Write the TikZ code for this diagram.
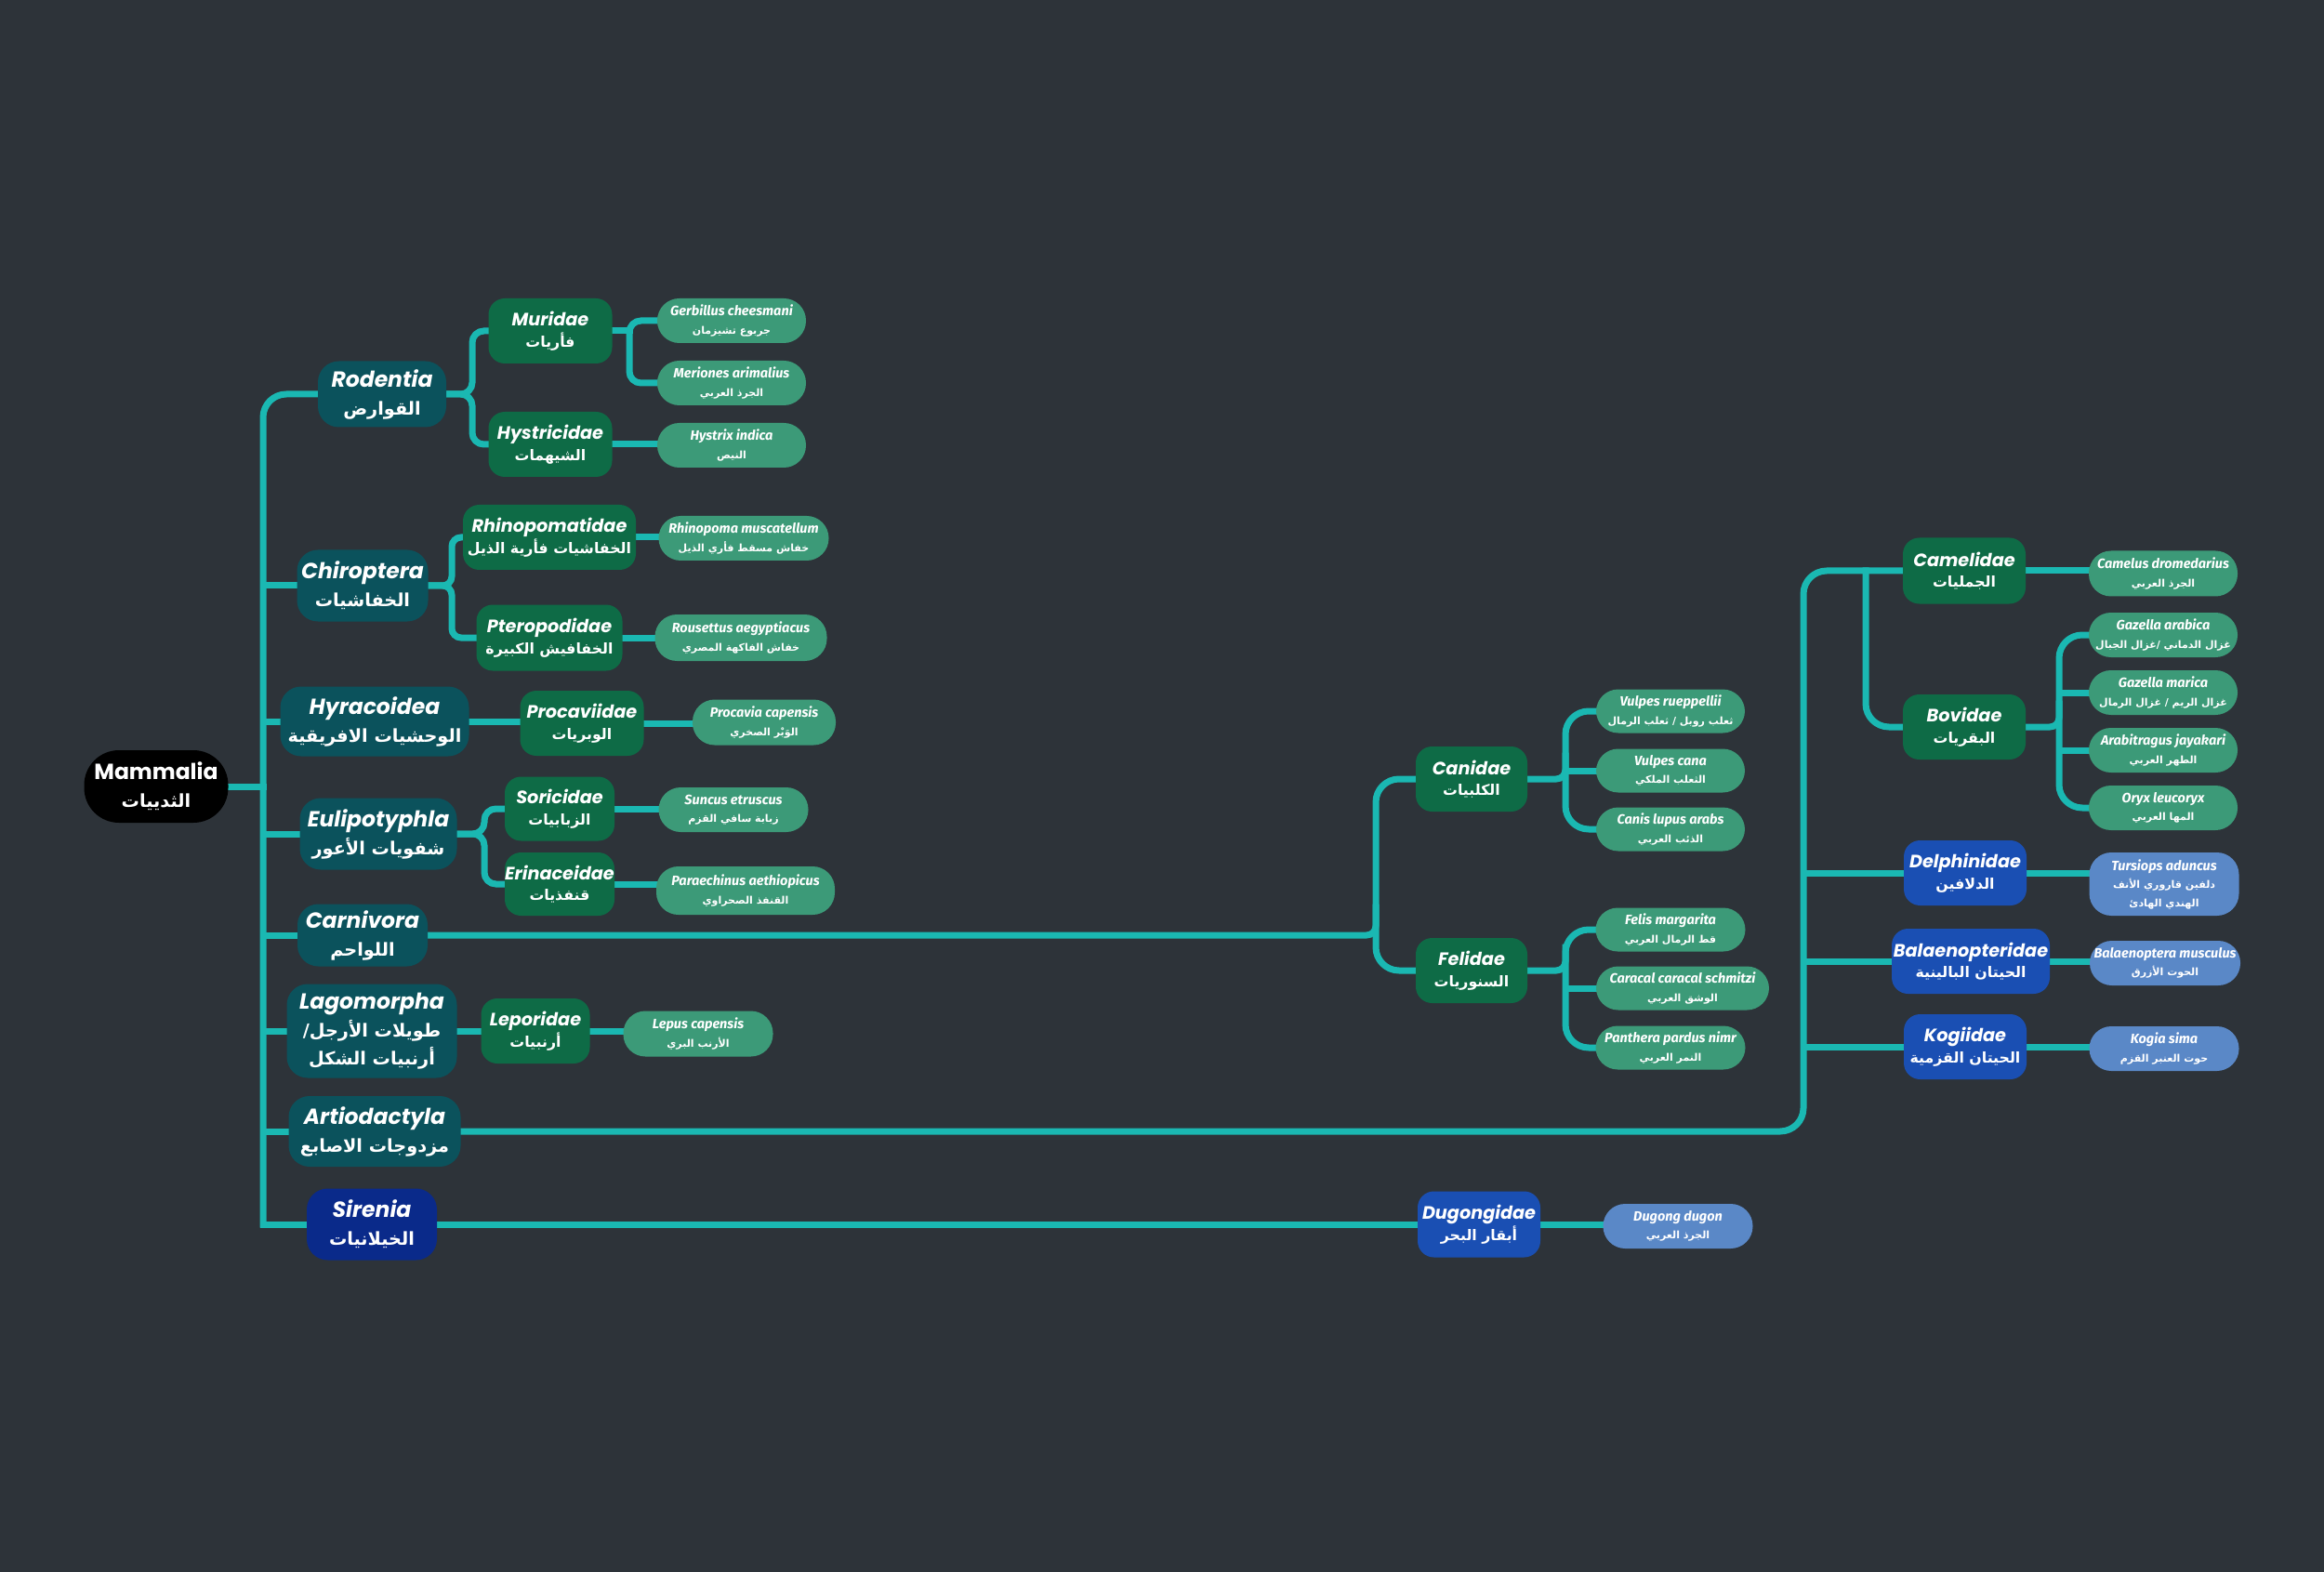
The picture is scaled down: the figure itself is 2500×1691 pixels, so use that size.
\documentclass[tikz,border=0pt]{standalone}
\usepackage{fontspec}
\usetikzlibrary{calc}
\TeXXeTstate=1
\newfontfamily\latf{Poppins}
\newfontfamily\spf{Fira Sans}
\newfontfamily\arf[Script=Arabic,Scale=0.82]{DejaVu Sans}
\newfontfamily\arfs[Script=Arabic,Scale=0.76]{DejaVu Sans}
\definecolor{bgc}{HTML}{2D3339}
\definecolor{linec}{HTML}{1AB8B2}
\definecolor{rootc}{HTML}{000000}
\definecolor{ordc}{HTML}{0B525C}
\definecolor{sirc}{HTML}{0A2A8A}
\definecolor{famc}{HTML}{0E6B46}
\definecolor{spec}{HTML}{3C9A78}
\definecolor{bfamc}{HTML}{1A4FB3}
\definecolor{bspec}{HTML}{5A88C7}
\newcommand\La[1]{{\latf\bfseries\itshape #1}}
\newcommand\Ls[1]{{\spf\bfseries\itshape #1}}
\newcommand\Ar[1]{{\arf\bfseries\beginR #1\endR}}
\newcommand\As[1]{{\arfs\bfseries\beginR #1\endR}}
\pgfdeclarelayer{bgfill}
\pgfdeclarelayer{lines}
\pgfsetlayers{bgfill,lines,main}
\begin{document}
\begin{tikzpicture}[x=0.4pt,y=-0.4pt,
  every node/.style={inner sep=0pt, outer sep=0pt, align=center, text=white},
  sz/.style 2 args={minimum width=#1*0.4pt, minimum height=#2*0.4pt},
  rootbox/.style={fill=rootc, rounded corners=15pt, font=\fontsize{9.4}{12}\selectfont},
  ordbox/.style={fill=ordc, rounded corners=9pt, font=\fontsize{9.4}{12}\selectfont},
  sirbox/.style={ordbox, fill=sirc},
  fambox/.style={fill=famc, rounded corners=7pt, font=\fontsize{7.7}{9}\selectfont},
  bfambox/.style={fambox, fill=bfamc},
  spebox/.style={fill=spec, rounded corners=9.5pt, font=\fontsize{5.8}{7.8}\selectfont},
  bspebox/.style={spebox, fill=bspec},
  conn/.style={draw=linec, line width=2.8pt, line cap=rect}]
\useasboundingbox (0,0) rectangle (2500,1691);
\begin{pgfonlayer}{bgfill}
\fill[bgc] (0,0) rectangle (2500,1691);
\end{pgfonlayer}

% root
\node[rootbox, sz={155}{78}] (mam) at (168,846) {{\latf\bfseries Mammalia}\\\Ar{الثدييات}};

% orders
\node[ordbox, sz={138}{71}] (rod) at (411,424) {\La{Rodentia}\\\Ar{القوارض}};
\node[ordbox, sz={141}{77}] (chi) at (390,630) {\La{Chiroptera}\\\Ar{الخفاشيات}};
\node[ordbox, sz={203}{75}] (hyr) at (403,776) {\La{Hyracoidea}\\\Ar{الوحشيات الافريقية}};
\node[ordbox, sz={169}{77}] (eul) at (407,897) {\La{Eulipotyphla}\\\Ar{شفويات الأعور}};
\node[ordbox, sz={140}{67}] (car) at (390,1006) {\La{Carnivora}\\\Ar{اللواحم}};
\node[ordbox, sz={183}{101}] (lag) at (400,1109) {\La{Lagomorpha}\\\Ar{طويلات الأرجل/}\\\Ar{أرنبيات الشكل}};
\node[ordbox, sz={185}{76}] (art) at (403,1217) {\La{Artiodactyla}\\\Ar{مزدوجات الاصابع}};
\node[sirbox, sz={140}{77}] (sir) at (400,1317) {\La{Sirenia}\\\Ar{الخيلانيات}};

% families
\node[fambox, sz={133}{70}] (mur) at (592,356) {\La{Muridae}\\\Ar{فأريات}};
\node[fambox, sz={133}{70}] (hys) at (592,478) {\La{Hystricidae}\\\Ar{الشيهمات}};
\node[fambox, sz={186}{70}] (rhi) at (591,578) {\La{Rhinopomatidae}\\\Ar{الخفاشيات فأرية الذيل}};
\node[fambox, sz={157}{71}] (pte) at (591,686) {\La{Pteropodidae}\\\Ar{الخفافيش الكبيرة}};
\node[fambox, sz={133}{70}] (pro) at (626,778) {\La{Procaviidae}\\\Ar{الوبريات}};
\node[fambox, sz={118}{69}] (sor) at (602,870) {\La{Soricidae}\\\Ar{الزبابيات}};
\node[fambox, sz={118}{68}] (eri) at (602,951) {\La{Erinaceidae}\\\Ar{قنفذيات}};
\node[fambox, sz={120}{70}] (can) at (1583,838) {\La{Canidae}\\\Ar{الكلبيات}};
\node[fambox, sz={120}{70}] (fel) at (1583,1044) {\La{Felidae}\\\Ar{السنوريات}};
\node[fambox, sz={117}{70}] (lep) at (576,1109) {\La{Leporidae}\\\Ar{أرنبيات}};
\node[fambox, sz={132}{71}] (cam) at (2113,614) {\La{Camelidae}\\\Ar{الجمليات}};
\node[fambox, sz={132}{70}] (bov) at (2113,782) {\La{Bovidae}\\\Ar{البقريات}};
\node[bfambox, sz={132}{70}] (del) at (2114,939) {\La{Delphinidae}\\\Ar{الدلافين}};
\node[bfambox, sz={170}{70}] (bal) at (2120,1034) {\La{Balaenopteridae}\\\Ar{الحيتان البالينية}};
\node[bfambox, sz={132}{70}] (kog) at (2114,1126) {\La{Kogiidae}\\\Ar{الحيتان القزمية}};
\node[bfambox, sz={132}{71}] (dug) at (1591,1317) {\La{Dugongidae}\\\Ar{أبقار البحر}};

% species
\node[spebox, sz={160}{48}] (ger) at (787,345) {\Ls{Gerbillus cheesmani}\\\As{جربوع تشيزمان}};
\node[spebox, sz={160}{48}] (mer) at (787,412) {\Ls{Meriones arimalius}\\\As{الجرذ العربي}};
\node[spebox, sz={160}{48}] (hyx) at (787,479) {\Ls{Hystrix indica}\\\As{النيص}};
\node[spebox, sz={183}{48}] (rhm) at (800,579) {\Ls{Rhinopoma muscatellum}\\\As{خفاش مسقط فأري الذيل}};
\node[spebox, sz={185}{50}] (rou) at (797,686) {\Ls{Rousettus aegyptiacus}\\\As{خفاش الفاكهة المصري}};
\node[spebox, sz={154}{49}] (prc) at (822,777) {\Ls{Procavia capensis}\\\As{الوَبْر الصخري}};
\node[spebox, sz={161}{48}] (sun) at (789,871) {\Ls{Suncus etruscus}\\\As{زبابة سافي القزم}};
\node[spebox, sz={192}{52}] (par) at (802,958) {\Ls{Paraechinus aethiopicus}\\\As{القنفذ الصحراوي}};
\node[spebox, sz={160}{47}] (vru) at (1797,765) {\Ls{Vulpes rueppellii}\\\As{ثعلب روبل / ثعلب الرمال}};
\node[spebox, sz={160}{47}] (vca) at (1797,829) {\Ls{Vulpes cana}\\\As{الثعلب الملكي}};
\node[spebox, sz={160}{47}] (cla) at (1797,892) {\Ls{Canis lupus arabs}\\\As{الذئب العربي}};
\node[spebox, sz={161}{47}] (fma) at (1797,1000) {\Ls{Felis margarita}\\\As{قط الرمال العربي}};
\node[spebox, sz={186}{47}] (ccs) at (1810,1063) {\Ls{Caracal caracal schmitzi}\\\As{الوشق العربي}};
\node[spebox, sz={161}{47}] (ppn) at (1797,1127) {\Ls{Panthera pardus nimr}\\\As{النمر العربي}};
\node[spebox, sz={161}{49}] (lpc) at (751,1112) {\Ls{Lepus capensis}\\\As{الأرنب البري}};
\node[spebox, sz={160}{49}] (cdr) at (2327,617) {\Ls{Camelus dromedarius}\\\As{الجرذ العربي}};
\node[spebox, sz={160}{48}] (gar) at (2327,683) {\Ls{Gazella arabica}\\\As{غزال الدماني /غزال الجبال}};
\node[spebox, sz={160}{48}] (gma) at (2327,745) {\Ls{Gazella marica}\\\As{غزال الريم / غزال الرمال}};
\node[spebox, sz={160}{48}] (ajy) at (2327,807) {\Ls{Arabitragus jayakari}\\\As{الطهر العربي}};
\node[spebox, sz={160}{48}] (olx) at (2327,869) {\Ls{Oryx leucoryx}\\\As{المها العربي}};
\node[bspebox, sz={161}{68}] (tur) at (2328,951) {\Ls{Tursiops aduncus}\\\As{دلفين قاروري الأنف}\\\As{الهندي الهادئ}};
\node[bspebox, sz={162}{48}] (bmu) at (2329,1036) {\Ls{Balaenoptera musculus}\\\As{الحوت الأزرق}};
\node[bspebox, sz={161}{48}] (ksi) at (2328,1128) {\Ls{Kogia sima}\\\As{حوت العنبر القزم}};
\node[bspebox, sz={161}{48}] (ddu) at (1805,1319) {\Ls{Dugong dugon}\\\As{الجرذ العربي}};

% branch coordinates
\coordinate (tr) at (283,0);
\coordinate (rodV) at (508,0);
\coordinate (murV) at (677,0);
\coordinate (chiV) at (486,0);
\coordinate (eulV) at (521,0);
\coordinate (carV) at (1480,0);
\coordinate (canV) at (1684,0);
\coordinate (artV) at (1940,0);
\coordinate (camV) at (2007,0);
\coordinate (bovV) at (2215,0);

\begin{pgfonlayer}{lines}
% trunk
\draw[conn] (mam.east) -- (mam.east -| tr);
\draw[conn, rounded corners=10pt] (rod.west) -| (tr |- sir.west);
\draw[conn] (tr |- sir.west) -- (sir.west);
\foreach \n in {chi,hyr,eul,car,lag,art} \draw[conn] (tr |- \n.west) -- (\n.west);
% Rodentia
\draw[conn, rounded corners=5pt] (rod.east) -| (rodV |- mur.west) -- (mur.west);
\draw[conn, rounded corners=5pt] (rod.east) -| (rodV |- hys.west) -- (hys.west);
\draw[conn, rounded corners=5pt] (ger.west) -| (murV |- mer.west) -- (mer.west);
\draw[conn] (mur.east) -- (mur.east -| murV);
\draw[conn] (hys.east) -- (hys.east -| hyx.west);
% Chiroptera
\draw[conn, rounded corners=4pt] (chi.east) -| (chiV |- rhi.west) -- (rhi.west);
\draw[conn, rounded corners=4pt] (chi.east) -| (chiV |- pte.west) -- (pte.west);
\draw[conn] (rhi.east) -- (rhi.east -| rhm.west);
\draw[conn] (pte.east) -- (pte.east -| rou.west);
% Hyracoidea
\draw[conn] (hyr.east) -- (hyr.east -| pro.west);
\draw[conn] (pro.east) -- (pro.east -| prc.west);
% Eulipotyphla
\draw[conn, rounded corners=5pt] (eul.east) -| (eulV |- sor.west) -- (sor.west);
\draw[conn, rounded corners=5pt] (eul.east) -| (eulV |- eri.west) -- (eri.west);
\draw[conn] (sor.east) -- (sor.east -| sun.west);
\draw[conn] (eri.east) -- (eri.east -| par.west);
% Carnivora
\draw[conn, rounded corners=10pt] (can.west) -| (carV |- fel.west) -- (fel.west);
\draw[conn, rounded corners=4pt] (car.east) -| ($(carV |- car.east)+(0,-30)$);
\draw[conn, rounded corners=10pt] (vru.west) -| (canV |- cla.west) -- (cla.west);
\draw[conn] (vca.west) -- (vca.west -| canV);
\draw[conn, rounded corners=4pt] (can.east) -| ($(canV |- can.east)+(0,-25)$);
\draw[conn, rounded corners=10pt] (fma.west) -| (canV |- ppn.west) -- (ppn.west);
\draw[conn] (ccs.west) -- (ccs.west -| canV);
\draw[conn, rounded corners=4pt] (fel.east) -| ($(canV |- fel.east)+(0,-25)$);
% Lagomorpha
\draw[conn] (lag.east) -- (lag.east -| lep.west);
\draw[conn] (lep.east) -- (lep.east -| lpc.west);
% Artiodactyla
\draw[conn, rounded corners=10pt] (art.east) -| (artV |- cam.west) -- (cam.west);
\foreach \n in {del,bal,kog} \draw[conn] (artV |- \n.west) -- (\n.west);
\draw[conn, rounded corners=10pt] (camV |- cam.west) |- (bov.west);
\draw[conn] (cam.east) -- (cam.east -| cdr.west);
\draw[conn, rounded corners=10pt] (gar.west) -| (bovV |- olx.west) -- (olx.west);
\draw[conn] (gma.west) -- (gma.west -| bovV);
\draw[conn] (ajy.west) -- (ajy.west -| bovV);
\draw[conn, rounded corners=4pt] (bov.east) -| ($(bovV |- bov.east)+(0,-25)$);
\draw[conn] (del.east) -- (del.east -| tur.west);
\draw[conn] (bal.east) -- (bal.east -| bmu.west);
\draw[conn] (kog.east) -- (kog.east -| ksi.west);
% Sirenia
\draw[conn] (sir.east) -- (sir.east -| dug.west);
\draw[conn] (dug.east) -- (dug.east -| ddu.west);
\end{pgfonlayer}
\end{tikzpicture}
\end{document}
